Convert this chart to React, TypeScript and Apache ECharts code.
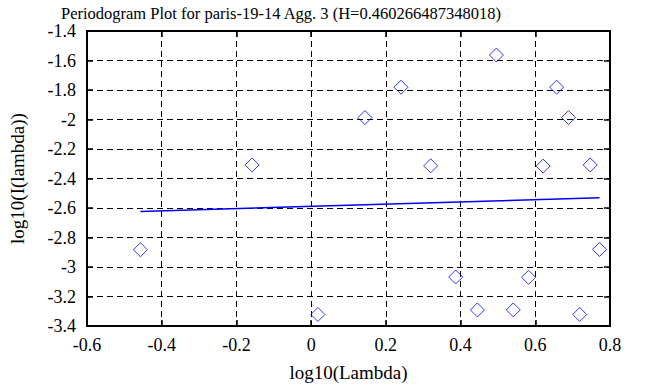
import React, { useEffect, useRef } from "react";
import * as echarts from "echarts";

const pointX = [-0.457, 0.018, -0.158, 0.144, 0.496, 0.2405, 0.657, 0.689, 0.32, 0.621, 0.747, 0.772, 0.387, 0.582, 0.445, 0.541, 0.719];
const pointY = [-2.883, -3.322, -2.308, -1.987, -1.563, -1.781, -1.781, -1.987, -2.314, -2.316, -2.308, -2.881, -3.068, -3.07, -3.291, -3.291, -3.322];
const fitX = [-0.457, 0.772];
const fitY = [-2.624, -2.53];

const FONT = "Liberation Serif";

export default function App() {
  const ref = useRef<HTMLDivElement>(null);
  useEffect(() => {
    if (!ref.current) return;
    const chart = echarts.init(ref.current, null, { renderer: "svg" });
    const labelStyle = { fontFamily: FONT, fontSize: 18, color: "#000" };
    const nameStyle = { fontFamily: FONT, fontSize: 19, color: "#000" };
    const dashed = { show: true, lineStyle: { color: "#000", type: [6, 4] as any, width: 1 } };
    const tick = { show: true, inside: true, length: 6, lineStyle: { color: "#000", width: 1.5 } };
    const noLine = { show: false, onZero: false };
    chart.setOption({
      animation: false,
      backgroundColor: "#fff",
      textStyle: { fontFamily: FONT },
      title: {
        text: "Periodogram Plot for paris-19-14 Agg. 3 (H=0.460266487348018)",
        left: 276,
        textAlign: "center",
        top: 0,
        textStyle: { fontFamily: FONT, fontSize: 16.5, color: "#000", fontWeight: "normal" },
      },
      grid: { left: 82, right: 48, top: 31, bottom: 57, show: true, borderColor: "#000", borderWidth: 2 },
      xAxis: [
        {
          type: "value", min: -0.6, max: 0.8, interval: 0.2,
          name: "log10(Lambda)", nameLocation: "middle", nameGap: 37,
          nameTextStyle: nameStyle,
          axisLine: noLine,
          axisTick: tick,
          axisLabel: { ...labelStyle, margin: 10, formatter: (v: number) => String(Math.round(v * 10) / 10) },
          splitLine: dashed,
        },
        {
          type: "value", min: -0.6, max: 0.8, interval: 0.2, position: "top",
          axisLine: noLine,
          axisTick: tick,
          axisLabel: { show: false }, splitLine: { show: false },
        },
      ],
      yAxis: [
        {
          type: "value", min: -3.4, max: -1.4, interval: 0.2, position: "left",
          name: "log10(I(lambda))", nameLocation: "middle", nameGap: 60,
          nameTextStyle: nameStyle,
          axisLine: noLine,
          axisTick: tick,
          axisLabel: { ...labelStyle, margin: 11, formatter: (v: number) => String(Math.round(v * 10) / 10) },
          splitLine: dashed,
        },
        {
          type: "value", min: -3.4, max: -1.4, interval: 0.2, position: "right",
          axisLine: noLine,
          axisTick: tick,
          axisLabel: { show: false }, splitLine: { show: false },
        },
      ],
      series: [
        {
          type: "line",
          data: fitX.map((x, i) => [x, fitY[i]]),
          showSymbol: false,
          symbol: "none",
          lineStyle: { color: "#0000ff", width: 1.5 },
          z: 3,
        },
        {
          type: "scatter",
          data: pointX.map((x, i) => [x, pointY[i]]),
          symbol: "diamond",
          symbolSize: 14,
          itemStyle: { color: "rgba(0,0,0,0)", borderColor: "#0000ff", borderWidth: 1 },
          z: 4,
        },
      ],
    });
    return () => chart.dispose();
  }, []);
  return <div ref={ref} style={{ position: "fixed", left: 0, top: 0, width: 658, height: 387 }} />;
}
